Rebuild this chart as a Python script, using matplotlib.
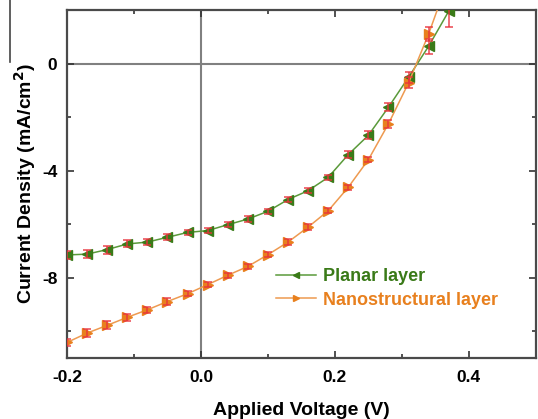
import numpy as np
import matplotlib.pyplot as plt
from matplotlib.lines import Line2D
from matplotlib.ticker import MultipleLocator

plt.rcParams['font.family'] = ['Liberation Sans', 'DejaVu Sans']
plt.rcParams['font.weight'] = 'bold'

voltage = [-0.20, -0.17, -0.14, -0.11, -0.08, -0.05, -0.02, 0.01, 0.04, 0.07,
           0.10, 0.13, 0.16, 0.19, 0.22, 0.25, 0.28, 0.31, 0.34, 0.37]
planar = [-7.15, -7.12, -6.95, -6.74, -6.67, -6.49, -6.31, -6.24, -6.02, -5.81,
          -5.52, -5.08, -4.75, -4.25, -3.40, -2.68, -1.63, -0.51, 0.65, 1.96]
planar_err = [0.15, 0.15, 0.15, 0.13, 0.12, 0.12, 0.1, 0.1, 0.1, 0.1,
              0.1, 0.1, 0.1, 0.1, 0.12, 0.15, 0.15, 0.2, 0.28, 0.6]
nano = [-10.42, -10.07, -9.78, -9.48, -9.20, -8.89, -8.60, -8.26, -7.91, -7.58,
        -7.14, -6.67, -6.11, -5.50, -4.62, -3.59, -2.25, -0.72, 1.11, 3.2]
nano_err = [0.12, 0.15, 0.15, 0.13, 0.12, 0.12, 0.1, 0.1, 0.1, 0.1,
            0.1, 0.1, 0.1, 0.1, 0.1, 0.1, 0.15, 0.2, 0.25, 0.4]

green = '#3a7a18'
orange = '#e8801e'
red = '#e8333c'

fig = plt.figure(figsize=(5.38, 4.19), dpi=100)
ax = fig.add_axes([0.1245, 0.1456, 0.8715, 0.8305])

ax.axhline(0, color='#808080', lw=1.5, zorder=1)
ax.axvline(0, color='#808080', lw=1.5, zorder=1)

for y, err, mk, col, lcol, lab in [
        (planar, planar_err, '<', green, '#5a9a3a', 'Planar layer'),
        (nano, nano_err, '>', orange, '#ee9a50', 'Nanostructural layer')]:
    ax.plot(voltage, y, color=lcol, lw=1.1, marker=mk, markersize=7.5,
            markerfacecolor=col, markeredgecolor=col, label=lab, zorder=3)
    ax.errorbar(voltage, y, yerr=err, fmt='none', ecolor=red, elinewidth=1.1,
                capsize=3.2, capthick=1.1, alpha=0.9, zorder=4)

ax.set_xlim(-0.2, 0.5)
ax.set_ylim(-11, 2)
ax.xaxis.set_minor_locator(MultipleLocator(0.1))
ax.yaxis.set_minor_locator(MultipleLocator(2))
ax.set_xticks([-0.2, 0.0, 0.2, 0.4])
ax.set_xticklabels(['-0.2', '0.0', '0.2', '0.4'])
ax.set_yticks([0, -4, -8])
ax.set_yticklabels(['0', '-4', '-8'])
ax.tick_params(which='both', direction='in', top=True, right=True,
               color='#333333', labelsize=12.5)
ax.tick_params(axis='x', pad=9)
ax.tick_params(axis='y', pad=7)
ax.tick_params(which='major', length=5, width=1.2)
ax.tick_params(which='minor', length=3, width=1.2)
for s in ax.spines.values():
    s.set_color('#4a4a4a')
    s.set_linewidth(1.6)

ax.set_xlabel('Applied Voltage (V)', fontsize=14, fontweight='bold', labelpad=12)
ax.set_ylabel('Current Density (mA/cm$^\\mathbf{2}$)', fontsize=14,
              fontweight='bold', labelpad=3)

leg = ax.legend(loc='center left', bbox_to_anchor=(0.411, 0.2), frameon=False,
                handlelength=2.2, handletextpad=0.4, labelspacing=0.35,
                markerscale=0.65, prop={'size': 13, 'weight': 'bold'})
for txt, col in zip(leg.get_texts(), [green, orange]):
    txt.set_color(col)

fig.add_artist(Line2D([10 / 538, 10 / 538], [1.0, 1 - 62 / 419],
                      color='#444444', lw=1.2))

fig.savefig('out.png', dpi=100)
